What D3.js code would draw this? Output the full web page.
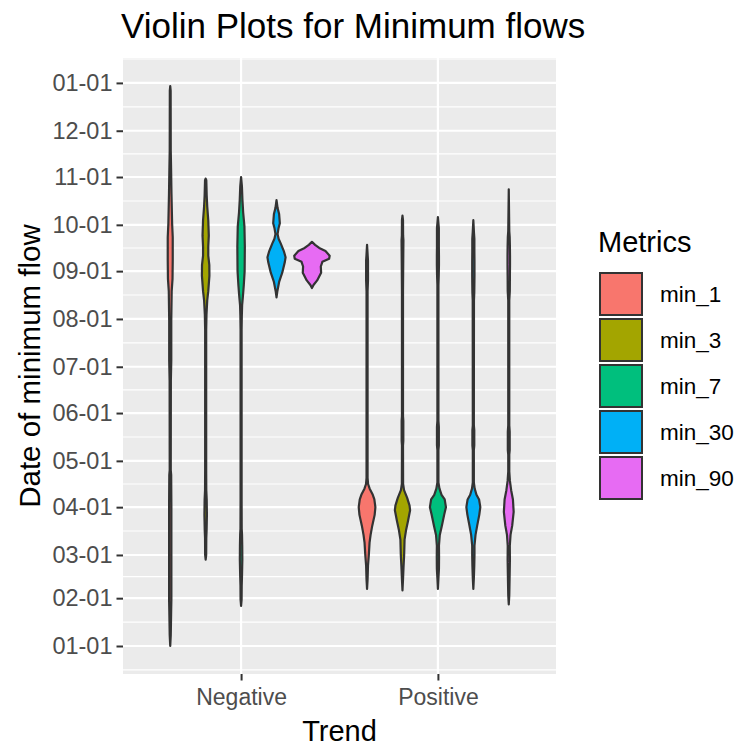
<!DOCTYPE html>
<html>
<head>
<meta charset="utf-8">
<script src="https://cdn.jsdelivr.net/npm/d3@7"></script>
<style>
  body { margin: 0; background: #fff; }
  text { font-family: "Liberation Sans", Arial, sans-serif; }
</style>
</head>
<body>
<svg id="chart" width="738" height="746"></svg>
<script>
// categories and colours
const trends = ["Negative", "Positive"]
const metrics = ["min_1", "min_3", "min_7", "min_30", "min_90"]
const fills = ["#F8766D", "#A3A500", "#00BF7D", "#00B0F6", "#E76BF3"]
const tickLabels = ["01-01", "02-01", "03-01", "04-01", "05-01", "06-01",
    "07-01", "08-01", "09-01", "10-01", "11-01", "12-01", "01-01"]

// violin outlines: [date, density]
const negMin1 = [["01-01",0],["01-08",0.5],["01-24",0.9],["01-31",1.1],["04-01",1.1],["04-22",0.9],["04-25",0.5],
    ["06-22",0.6],["07-05",1],["07-31",1],["08-19",1.4],["08-27",2.2],["09-08",2.4],["09-23",2.4],
    ["10-02",1.8],["10-21",1.2],["11-07",0.8],["11-18",0.5],["12-27",0.4],["12-30",0]]
const negMin3 = [["02-26",0],["03-01",0.5],["03-12",0.6],["03-17",0.9],["03-27",1.2],["04-06",1],["04-12",0.6],
    ["04-25",0.5],["07-25",0.5],["08-04",0.8],["08-13",1.5],["08-19",2.5],["08-29",3.6],["09-05",3.5],
    ["09-11",2.5],["09-17",2.5],["09-24",3],["10-04",2.5],["10-13",1.5],["10-20",1],["10-30",0.6],["10-31",0]]
const negMin7 = [["01-27",0],["01-31",0.5],["02-09",0.6],["02-16",0.9],["02-26",1.2],["03-07",1.1],["03-14",0.9],
    ["03-18",0.6],["04-06",0.5],["07-25",0.5],["08-03",0.7],["08-10",1],["08-16",1.8],["08-23",2.6],
    ["09-01",3.4],["09-17",3.6],["09-30",3.2],["10-09",2],["10-17",1.3],["10-26",0.8],["11-01",0]]
const negMin30 = [["08-15",0],["08-19",0.8],["08-25",2.5],["08-31",5.5],["09-07",8],["09-10",8.7],["09-14",7],
    ["09-19",4],["09-22",2],["09-25",1],["09-29",2],["10-02",3.2],["10-08",2.5],["10-12",1],["10-17",0]]
const negMin90 = [["08-21",0],["08-23",1.5],["08-26",5],["08-31",8.8],["09-04",8.5],["09-07",10],["09-09",16.5],
    ["09-11",17],["09-14",13],["09-16",7],["09-18",3],["09-20",0]]
const posMin1 = [["02-07",0],["02-13",0.5],["02-22",0.9],["03-01",1.7],["03-09",2.4],["03-14",3.4],["03-20",5],
    ["03-27",7.3],["04-01",8],["04-06",7],["04-09",5.5],["04-13",2.5],["04-16",1],["04-20",0.5],
    ["08-19",0.5],["08-26",0.9],["09-08",0.9],["09-11",0.6],["09-18",0]]
const posMin3 = [["02-06",0],["02-13",0.5],["02-21",1],["03-01",1.6],["03-11",2],["03-17",3.4],["03-23",5.3],
    ["03-30",7.3],["04-02",6.8],["04-07",4.5],["04-12",1.5],["04-16",0.6],["05-11",0.5],["05-14",0.8],
    ["05-27",0.8],["05-30",0.5],["08-19",0.5],["09-14",0.8],["09-21",0.9],["09-24",0.6],["10-04",0.5],["10-07",0]]
const posMin7 = [["02-07",0],["02-14",0.5],["02-20",1],["02-28",1.1],["03-07",1],["03-14",1.8],["03-20",3.8],
    ["03-27",6],["04-01",7.7],["04-06",6.5],["04-09",3.5],["04-13",1.5],["04-17",0.5],["05-08",0.5],
    ["05-11",0.9],["05-23",0.9],["05-27",0.5],["08-23",0.5],["08-29",0.8],["09-05",1],["09-11",1],
    ["09-17",0.9],["09-29",0.9],["10-02",0.5],["10-06",0]]
const posMin30 = [["02-07",0],["02-14",0.5],["02-22",0.9],["03-01",1.1],["03-07",1.1],["03-14",2.1],["03-20",3.7],
    ["03-27",5.7],["04-01",6.7],["04-06",5.5],["04-09",3],["04-13",1.3],["04-17",0.5],["05-08",0.5],
    ["05-11",0.9],["05-21",0.9],["05-24",0.5],["08-13",0.6],["08-18",0.9],["08-23",1],["08-29",1.1],
    ["09-07",1.1],["09-14",1],["09-22",1],["09-26",0.6],["10-04",0]]
const posMin90 = [["01-28",0],["02-03",0.5],["02-14",0.8],["02-26",1.1],["03-07",1],["03-14",1.7],["03-20",3.3],
    ["03-29",4.7],["04-06",4],["04-12",2.3],["04-18",1.1],["04-24",0.5],["05-05",0.5],["05-08",0.9],
    ["05-20",0.9],["05-24",0.5],["08-13",0.5],["08-19",1],["08-29",1.1],["09-05",1.2],["09-11",1.2],
    ["09-17",1.1],["09-23",0.9],["09-27",0.5],["10-24",0]]

const violins = [
    ["Negative", "min_1", negMin1], ["Negative", "min_3", negMin3], ["Negative", "min_7", negMin7],
    ["Negative", "min_30", negMin30], ["Negative", "min_90", negMin90],
    ["Positive", "min_1", posMin1], ["Positive", "min_3", posMin3], ["Positive", "min_7", posMin7],
    ["Positive", "min_30", posMin30], ["Positive", "min_90", posMin90]
]

const parseMD = s => new Date(Date.UTC(2001, +s.slice(0, 2) - 1, +s.slice(3)))

const panel = {left: 123, right: 556, top: 58, bottom: 674}
const svg = d3.select('#chart')
svg.append('rect').attr('width', 738).attr('height', 746).attr('fill', '#fff')

// scales
const x = d3.scalePoint().domain(trends).range([panel.left, panel.right]).padding(0.6)
const dodge = d3.scaleBand().domain(metrics).range([-0.45 * x.step(), 0.45 * x.step()])
const color = d3.scaleOrdinal().domain(metrics).range(fills)

const allDates = violins.flatMap(v => v[2].map(p => parseMD(p[0])))
const [dMin, dMax] = d3.extent(allDates)
const pad = (dMax - dMin) * 0.05
const y = d3.scaleUtc()
    .domain([new Date(+dMin - pad), new Date(+dMax + pad)])
    .range([panel.bottom, panel.top])
const maxDens = d3.max(violins, v => d3.max(v[2], p => p[1]))
const w = d3.scaleLinear().domain([0, maxDens]).range([0, dodge.bandwidth() / 2])

// tick dates (roll the last 01-01 over to the next year)
const tickDates = []
tickLabels.forEach((s, i) => {
    let d = parseMD(s)
    if (i > 0 && d <= tickDates[i - 1]) d = new Date(Date.UTC(2002, d.getUTCMonth(), d.getUTCDate()))
    tickDates.push(d)
})
const minorDates = []
for (let i = 0; i < tickDates.length - 1; i++) minorDates.push(new Date((+tickDates[i] + +tickDates[i + 1]) / 2))
minorDates.unshift(new Date(+tickDates[0] - (+tickDates[1] - +tickDates[0]) / 2))
minorDates.push(new Date(+tickDates[tickDates.length - 1] + (+tickDates[tickDates.length - 1] - +tickDates[tickDates.length - 2]) / 2))

// panel + grid
svg.append('rect')
    .attr('x', panel.left).attr('y', panel.top)
    .attr('width', panel.right - panel.left).attr('height', panel.bottom - panel.top)
    .attr('fill', '#EBEBEB')

svg.append('defs').append('clipPath').attr('id', 'clip')
    .append('rect')
    .attr('x', panel.left).attr('y', panel.top)
    .attr('width', panel.right - panel.left).attr('height', panel.bottom - panel.top)

const grid = svg.append('g').attr('clip-path', 'url(#clip)')
grid.selectAll('.minor').data(minorDates).enter().append('line')
    .attr('x1', panel.left).attr('x2', panel.right)
    .attr('y1', d => y(d)).attr('y2', d => y(d))
    .attr('stroke', '#fff').attr('stroke-width', 1.1)
grid.selectAll('.major').data(tickDates).enter().append('line')
    .attr('x1', panel.left).attr('x2', panel.right)
    .attr('y1', d => y(d)).attr('y2', d => y(d))
    .attr('stroke', '#fff').attr('stroke-width', 2.2)
grid.selectAll('.vmajor').data(trends).enter().append('line')
    .attr('x1', d => x(d)).attr('x2', d => x(d))
    .attr('y1', panel.top).attr('y2', panel.bottom)
    .attr('stroke', '#fff').attr('stroke-width', 2.2)

// violins
const plot = svg.append('g').attr('clip-path', 'url(#clip)')
violins.forEach(([trend, metric, pts]) => {
    const cx = x(trend) + dodge(metric) + dodge.bandwidth() / 2
    const area = d3.area()
        .y(d => y(parseMD(d[0])))
        .x0(d => cx - w(d[1]))
        .x1(d => cx + w(d[1]))
    plot.append('path')
        .datum(pts)
        .attr('d', area)
        .attr('fill', color(metric))
        .attr('stroke', '#333333')
        .attr('stroke-width', 2.2)
        .attr('stroke-linejoin', 'round')
})

// axes
const fmt = d3.utcFormat('%m-%d')
const yAxis = svg.append('g').attr('transform', `translate(${panel.left},0)`)
    .call(d3.axisLeft(y).tickValues(tickDates).tickFormat(fmt).tickSize(6.5).tickPadding(4))
yAxis.select('.domain').remove()
yAxis.selectAll('line').attr('stroke', '#333').attr('stroke-width', 2)
yAxis.selectAll('text').attr('fill', '#4D4D4D').attr('font-size', 23.5)
    .attr('font-family', '"Liberation Sans", Arial, sans-serif')

const xAxis = svg.append('g').attr('transform', `translate(0,${panel.bottom})`)
    .call(d3.axisBottom(x).tickSize(6.5).tickPadding(8))
xAxis.select('.domain').remove()
xAxis.selectAll('line').attr('stroke', '#333').attr('stroke-width', 2)
xAxis.selectAll('text').attr('fill', '#4D4D4D').attr('font-size', 23)
    .attr('font-family', '"Liberation Sans", Arial, sans-serif')

// titles
svg.append('text')
    .attr('x', 121).attr('y', 38)
    .attr('font-size', 35)
    .text('Violin Plots for Minimum flows')
svg.append('text')
    .attr('x', (panel.left + panel.right) / 2).attr('y', 741)
    .attr('text-anchor', 'middle').attr('font-size', 29)
    .text('Trend')
svg.append('text')
    .attr('transform', `translate(40,${(panel.top + panel.bottom) / 2}) rotate(-90)`)
    .attr('text-anchor', 'middle').attr('font-size', 29.5)
    .text('Date of minimum flow')

// legend
const legend = svg.append('g')
legend.append('text').attr('x', 598).attr('y', 252).attr('font-size', 29).text('Metrics')
const keys = legend.selectAll('.key').data(metrics).enter().append('g')
    .attr('transform', (d, i) => `translate(600,${273 + i * 46})`)
keys.append('rect')
    .attr('width', 42).attr('height', 42)
    .attr('fill', d => color(d))
    .attr('stroke', '#333333').attr('stroke-width', 2)
keys.append('text')
    .attr('x', 60).attr('y', 21).attr('dy', '0.35em')
    .attr('font-size', 22.5)
    .text(d => d)
</script>
</body>
</html>
